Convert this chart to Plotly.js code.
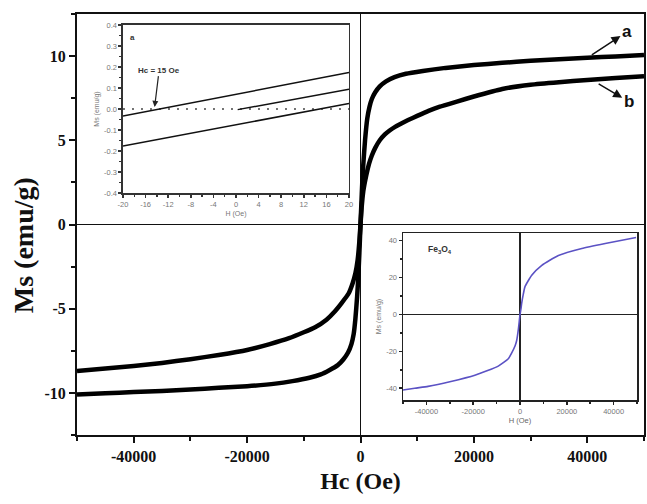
<!DOCTYPE html>
<html>
<head>
<meta charset="utf-8">
<script src="https://cdn.plot.ly/plotly-3.0.1.min.js"></script>
<style>html,body{margin:0;padding:0;background:#fff;}#chart{width:647px;height:504px;}</style>
</head>
<body>
<div id="chart"></div>
<script>
// ---- main chart data (Hc in Oe, Ms in emu/g) ----
const curveA_x = [-50000,-45000,-40000,-35000,-30000,-25000,-20000,-15000,-12000,-9000,-7000,-5500,-4000,-3000,-2200,-1600,-1200,-900,-600,-400,-200,0,150,300,500,800,1200,1600,2000,2600,3400,4500,6000,8000,11000,15000,20000,25000,30000,35000,40000,45000,50000];
const curveA_y = [-10.1,-10.02,-9.95,-9.88,-9.8,-9.7,-9.6,-9.45,-9.3,-9.1,-8.9,-8.65,-8.35,-8.0,-7.6,-7.1,-6.5,-5.6,-4.3,-3.2,-1.7,0,1.2,2.4,3.6,5.0,6.3,7.0,7.45,7.85,8.2,8.5,8.75,8.95,9.12,9.3,9.47,9.6,9.72,9.82,9.9,9.98,10.07];
const curveB_x = [-50000,-45000,-40000,-35000,-30000,-25000,-20000,-16000,-12600,-10000,-8000,-6000,-4500,-3300,-2100,-1400,-900,-500,-200,0,200,500,1000,1500,2000,2600,3400,4300,5200,6100,7200,8400,10000,12000,14000,17000,20000,25000,30000,35000,40000,45000,50000];
const curveB_y = [-8.7,-8.55,-8.4,-8.22,-8.0,-7.75,-7.45,-7.1,-6.75,-6.4,-6.1,-5.65,-5.15,-4.65,-4.1,-3.5,-2.9,-2.1,-1.0,0,1.0,2.0,2.9,3.6,4.1,4.55,5.0,5.35,5.6,5.8,6.0,6.2,6.45,6.75,7.0,7.3,7.6,8.05,8.3,8.45,8.58,8.7,8.8];
const mainXTicks = [-40000,-20000,0,20000,40000];
const mainXTickText = ["-40000","-20000","0","20000","40000"];
const mainXMinor = [-50000,-30000,-10000,10000,30000,50000];
const mainYTicks = [-10,-5,0,5,10];
const mainYTickText = ["-10","-5","0","5","10"];
const mainYMinor = [-12.5,-7.5,-2.5,2.5,7.5,12.5];

// ---- inset a (low field) ----
const insA_upper_x = [-20,20];
const insA_upper_y = [-0.034,0.174];
const insA_mid_x = [0.3,20];
const insA_mid_y = [-0.003,0.094];
const insA_low_x = [-20,20];
const insA_low_y = [-0.176,0.026];
const insA_zero_x = [-20,20];
const insA_zero_y = [0,0];
const insAXTicks = [-20,-16,-12,-8,-4,0,4,8,12,16,20];
const insAXTickText = ["-20","-16","-12","-8","-4","0","4","8","12","16","20"];
const insAXMinor = [-18,-14,-10,-6,-2,2,6,10,14,18];
const insAYTicks = [-0.4,-0.3,-0.2,-0.1,0,0.1,0.2,0.3,0.4];
const insAYTickText = ["-0.4","-0.3","-0.2","-0.1","0.0","0.1","0.2","0.3","0.4"];
const insAYMinor = [-0.35,-0.25,-0.15,-0.05,0.05,0.15,0.25,0.35];

// ---- inset b (Fe3O4) ----
const fe_x = [-50000,-45000,-39300,-30000,-19300,-9300,-5000,-3600,-2100,-1400,-700,0,430,700,1400,2100,5000,9300,16400,26400,36400,49600];
const fe_y = [-41,-40,-39,-36.5,-33,-28,-24,-21,-17,-14,-8,0,3.3,6,11,15,21.3,26.7,32,35.8,38.5,41.8];
const insBXTicks = [-40000,-20000,0,20000,40000];
const insBXTickText = ["-40000","-20000","0","20000","40000"];
const insBXMinor = [-50000,-30000,-10000,10000,30000,50000];
const insBYTicks = [-40,-20,0,20,40];
const insBYTickText = ["-40","-20","0","20","40"];
const insBYMinor = [-30,-10,10,30];

const serifBold = {family:"Liberation Serif, Times New Roman, serif", size:16, color:"#111", weight:"bold"};
const smallGray = {family:"Liberation Sans, Arial, sans-serif", size:7.5, color:"#777"};

const traces = [
  {x:curveA_x, y:curveA_y, xaxis:"x", yaxis:"y", mode:"lines", line:{color:"#000", width:4.5, shape:"spline", smoothing:0.4}},
  {x:curveB_x, y:curveB_y, xaxis:"x", yaxis:"y", mode:"lines", line:{color:"#000", width:4.5, shape:"spline", smoothing:0.4}},
  {x:insA_zero_x, y:insA_zero_y, xaxis:"x2", yaxis:"y2", mode:"lines", line:{color:"#444", width:1.5, dash:"2px,7px"}},
  {x:insA_upper_x, y:insA_upper_y, xaxis:"x2", yaxis:"y2", mode:"lines", line:{color:"#111", width:1.5}},
  {x:insA_mid_x, y:insA_mid_y, xaxis:"x2", yaxis:"y2", mode:"lines", line:{color:"#111", width:1.5}},
  {x:insA_low_x, y:insA_low_y, xaxis:"x2", yaxis:"y2", mode:"lines", line:{color:"#111", width:1.5}},
  {x:fe_x, y:fe_y, xaxis:"x3", yaxis:"y3", mode:"lines", line:{color:"#5b52c4", width:1.6, shape:"spline", smoothing:0.5}}
];

const layout = {
  width:647, height:504,
  margin:{l:77, r:3, t:14, b:69},
  paper_bgcolor:"#fff", plot_bgcolor:"#fff",
  showlegend:false,
  xaxis:{
    domain:[0,1], range:[-50000,50000], tickmode:"array", tickvals:mainXTicks, ticktext:mainXTickText,
    ticks:"outside", ticklen:6, tickwidth:2, tickcolor:"#111",
    minor:{tickmode:"array", tickvals:mainXMinor, ticks:"outside", ticklen:4, tickwidth:2, tickcolor:"#111"},
    showline:true, linewidth:2, linecolor:"#111", mirror:true,
    zeroline:true, zerolinewidth:1.5, zerolinecolor:"#111", showgrid:false,
    tickfont:serifBold,
    title:{text:"<b>Hc (Oe)</b>", font:{family:"Liberation Serif, Times New Roman, serif", size:24, color:"#111"}, standoff:8}
  },
  yaxis:{
    domain:[0,1], range:[-12.5,12.5], tickmode:"array", tickvals:mainYTicks, ticktext:mainYTickText,
    ticks:"outside", ticklen:6, tickwidth:2, tickcolor:"#111",
    minor:{tickmode:"array", tickvals:mainYMinor, ticks:"outside", ticklen:4, tickwidth:2, tickcolor:"#111"},
    showline:true, linewidth:2, linecolor:"#111", mirror:true,
    zeroline:true, zerolinewidth:1.5, zerolinecolor:"#111", showgrid:false,
    tickfont:serifBold
  },
  xaxis2:{
    domain:[0.0811,0.4797], anchor:"y2", range:[-20,20], tickmode:"array", tickvals:insAXTicks, ticktext:insAXTickText,
    ticks:"outside", ticklen:3, tickwidth:1.5, tickcolor:"#333",
    minor:{tickmode:"array", tickvals:insAXMinor, ticks:"outside", ticklen:2, tickwidth:1.5, tickcolor:"#333"},
    showline:true, linewidth:1.5, linecolor:"#333", mirror:true, zeroline:false, showgrid:false,
    tickfont:smallGray,
    title:{text:"H (Oe)", font:{family:"Liberation Sans, Arial, sans-serif", size:7, color:"#777"}, standoff:3}
  },
  yaxis2:{
    domain:[0.5748,0.9739], anchor:"x2", range:[-0.4,0.4], tickmode:"array", tickvals:insAYTicks, ticktext:insAYTickText,
    ticks:"outside", ticklen:3, tickwidth:1.5, tickcolor:"#333",
    minor:{tickmode:"array", tickvals:insAYMinor, ticks:"outside", ticklen:2, tickwidth:1.5, tickcolor:"#333"},
    showline:true, linewidth:1.5, linecolor:"#333", mirror:true, zeroline:false, showgrid:false,
    tickfont:smallGray,
    title:{text:"Ms (emu/g)", font:{family:"Liberation Sans, Arial, sans-serif", size:7, color:"#777"}, standoff:3}
  },
  xaxis3:{
    domain:[0.575,0.9877], anchor:"y3", range:[-50000,50000], tickmode:"array", tickvals:insBXTicks, ticktext:insBXTickText,
    ticks:"outside", ticklen:3, tickwidth:1.5, tickcolor:"#222",
    minor:{tickmode:"array", tickvals:insBXMinor, ticks:"outside", ticklen:2, tickwidth:1.5, tickcolor:"#222"},
    showline:true, linewidth:1.5, linecolor:"#222", mirror:true,
    zeroline:true, zerolinewidth:1.3, zerolinecolor:"#222", showgrid:false,
    tickfont:smallGray,
    title:{text:"H (Oe)", font:{family:"Liberation Sans, Arial, sans-serif", size:7.5, color:"#666"}, standoff:3}
  },
  yaxis3:{
    domain:[0.0831,0.4798], anchor:"x3", range:[-46.4,44.2], tickmode:"array", tickvals:insBYTicks, ticktext:insBYTickText,
    ticks:"outside", ticklen:3, tickwidth:1.5, tickcolor:"#222",
    minor:{tickmode:"array", tickvals:insBYMinor, ticks:"outside", ticklen:2, tickwidth:1.5, tickcolor:"#222"},
    showline:true, linewidth:1.5, linecolor:"#222", mirror:true,
    zeroline:true, zerolinewidth:1.3, zerolinecolor:"#222", showgrid:false,
    tickfont:smallGray,
    title:{text:"Ms (emu/g)", font:{family:"Liberation Sans, Arial, sans-serif", size:7, color:"#777"}, standoff:3}
  },
  annotations:[
    {xref:"paper", yref:"paper", x:-0.094, y:0.45, xanchor:"center", yanchor:"middle", textangle:-90,
     text:"<b>Ms (emu/g)</b>", showarrow:false, font:{family:"Liberation Serif, Times New Roman, serif", size:28, color:"#111"}},
    {xref:"x", yref:"y", x:40800, y:10.07, axref:"x", ayref:"y", ax:47000, ay:11.45, text:"<b>a</b>",
     showarrow:true, arrowside:"start", startarrowhead:2, startarrowsize:1.2, arrowwidth:1.5, arrowcolor:"#111",
     font:{family:"Liberation Sans, Arial, sans-serif", size:17, color:"#111"}},
    {xref:"x", yref:"y", x:42000, y:8.35, axref:"x", ayref:"y", ax:47300, ay:7.3, text:"<b>b</b>",
     showarrow:true, arrowside:"start", startarrowhead:2, startarrowsize:1.2, arrowwidth:1.5, arrowcolor:"#111",
     font:{family:"Liberation Sans, Arial, sans-serif", size:17, color:"#111"}},
    {xref:"x2", yref:"y2", x:-18.4, y:0.34, text:"<b>a</b>", showarrow:false, font:{family:"Liberation Sans, Arial, sans-serif", size:8, color:"#333"}},
    {xref:"x2", yref:"y2", x:-14.4, y:0.01, axref:"x2", ayref:"y2", ax:-13.6, ay:0.185, text:"<b>Hc = 15 Oe</b>",
     showarrow:true, arrowhead:2, arrowsize:1, arrowwidth:1.2, arrowcolor:"#222",
     font:{family:"Liberation Sans, Arial, sans-serif", size:8, color:"#333"}},
    {xref:"x3", yref:"y3", x:-34000, y:35, text:"<b>Fe<sub>3</sub>O<sub>4</sub></b>", showarrow:false, font:{family:"Liberation Sans, Arial, sans-serif", size:8.5, color:"#333"}}
  ]
};

Plotly.newPlot("chart", traces, layout, {staticPlot:true, displayModeBar:false});
</script>
</body>
</html>
